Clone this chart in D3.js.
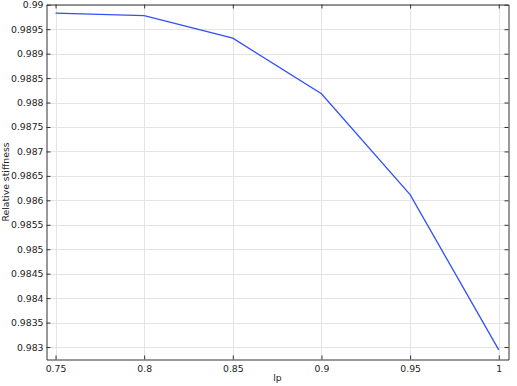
<!DOCTYPE html>
<html lang="en">
<head>
  <meta charset="UTF-8" />
  <title>Relative stiffness vs lp</title>
  <style>
    body { margin: 0; padding: 0; background: #fff; }
    svg text { font-family: "DejaVu Sans", sans-serif; font-size: 9.3px; fill: #222; }
  </style>
  <script src="https://d3js.org/d3.v7.min.js"></script>
</head>
<body>
  <svg width="517" height="386"></svg>

  <script>
    const lp = [0.75, 0.8, 0.85, 0.9, 0.95, 1.0];
    const stiffness = [0.989827, 0.989778, 0.989316, 0.98818, 0.986118, 0.982941];
    const xTicks = [0.75, 0.8, 0.85, 0.9, 0.95, 1];
    const yTicks = [0.983, 0.9835, 0.984, 0.9845, 0.985, 0.9855, 0.986, 0.9865,
                    0.987, 0.9875, 0.988, 0.9885, 0.989, 0.9895, 0.99];

    const svg = d3.select("svg");
    const plotLeft = 46.5, plotRight = 508.5, plotTop = 4.5, plotBottom = 359.5;

    const x = d3.scaleLinear().domain([0.7449, 1.0055]).range([plotLeft, plotRight]);
    const y = d3.scaleLinear().domain([0.982745, 0.990005]).range([plotBottom, plotTop]);

    // grid
    const grid = svg.append("g").attr("stroke", "#e4e4e4").attr("stroke-width", 1);
    grid.selectAll("line.vx").data(xTicks).join("line")
      .attr("x1", d => Math.round(x(d)) + 0.5).attr("x2", d => Math.round(x(d)) + 0.5)
      .attr("y1", plotTop).attr("y2", plotBottom);
    grid.selectAll("line.hy").data(yTicks).join("line")
      .attr("y1", d => Math.round(y(d)) + 0.5).attr("y2", d => Math.round(y(d)) + 0.5)
      .attr("x1", plotLeft).attr("x2", plotRight);

    // axes with inward ticks
    const fmtX = d => String(+d.toFixed(2));
    const fmtY = d => String(+d.toFixed(4));

    const xAxis = svg.append("g").attr("transform", `translate(0,${plotBottom})`)
      .call(d3.axisBottom(x).tickValues(xTicks).tickSizeInner(-4).tickSizeOuter(0).tickPadding(6).tickFormat(fmtX));
    const xAxisTop = svg.append("g").attr("transform", `translate(0,${plotTop})`)
      .call(d3.axisTop(x).tickValues(xTicks).tickSizeInner(-4).tickSizeOuter(0).tickFormat(""));
    const yAxis = svg.append("g").attr("transform", `translate(${plotLeft},0)`)
      .call(d3.axisLeft(y).tickValues(yTicks).tickSizeInner(-4).tickSizeOuter(0).tickPadding(3).tickFormat(fmtY));
    const yAxisRight = svg.append("g").attr("transform", `translate(${plotRight},0)`)
      .call(d3.axisRight(y).tickValues(yTicks).tickSizeInner(-4).tickSizeOuter(0).tickFormat(""));

    [xAxis, xAxisTop, yAxis, yAxisRight].forEach(a => {
      a.selectAll(".domain").attr("stroke", "#333");
      a.selectAll(".tick line").attr("stroke", "#333");
      a.selectAll("text").attr("font-family", "DejaVu Sans, sans-serif").attr("font-size", 9.3).attr("fill", "#222");
    });

    // data line
    svg.append("path")
      .datum(lp.map((d, i) => [d, stiffness[i]]))
      .attr("fill", "none")
      .attr("stroke", "#3050f8")
      .attr("stroke-width", 1.3)
      .attr("d", d3.line().x(d => x(d[0])).y(d => y(d[1])));

    // axis labels
    svg.append("text").attr("x", (plotLeft + plotRight) / 2).attr("y", 381)
      .attr("text-anchor", "middle").text("lp");
    svg.append("text").attr("transform", `translate(9,${(plotTop + plotBottom) / 2}) rotate(-90)`)
      .attr("text-anchor", "middle").attr("font-size", 9).text("Relative stiffness");
  </script>
</body>
</html>
